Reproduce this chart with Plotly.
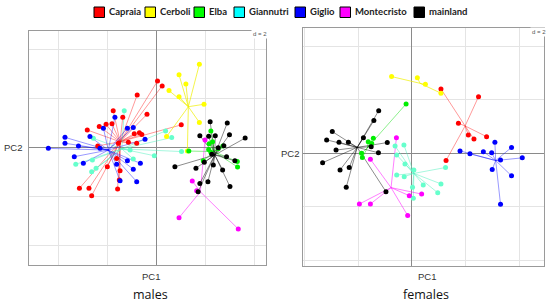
import plotly.graph_objects as go

W, H = 550, 305

groups = ['Capraia', 'Cerboli', 'Elba', 'Giannutri', 'Giglio', 'Montecristo', 'mainland']
point_colors = ['#ff0000', '#ffff00', '#00ee00', '#66ffcc', '#0000ff', '#ff00ff', '#000000']
line_colors = ['rgba(255,0,0,0.4)', 'rgba(240,240,0,0.7)', 'rgba(0,220,0,0.45)',
               'rgba(80,240,190,0.5)', 'rgba(0,0,255,0.4)', 'rgba(255,0,255,0.5)',
               'rgba(0,0,0,0.45)']
legend_colors = ['#ff0000', '#ffff00', '#00ff00', '#00ffff', '#0000ff', '#ff00ff', '#000000']

# ---- males (PC1, PC2) ----
males_capraia = [(0.05, 2.72), (0.24, 2.52), (-0.78, 2.15), (-0.38, 1.36), (1.02, 0.93),
                 (-1.76, 1.51), (-1.37, 1.24), (-1.81, 0.97), (-2.05, 0.95), (-2.33, 0.86),
                 (-2.82, 0.72), (-0.90, 0.57), (-0.69, 0.61), (-0.59, 0.54), (-0.80, 0.18),
                 (-1.14, 0.22), (-1.55, 0.18), (-2.39, 0.07), (-2.00, -0.78), (-1.48, -0.94),
                 (-1.51, -1.32), (-1.58, -1.69), (-3.14, -1.66), (-2.75, -1.66), (-2.64, -1.96),
                 (-1.62, -0.44)]
males_cerboli = [(1.76, 3.40), (0.93, 2.97), (1.21, 2.60), (0.52, 2.33), (0.93, 2.08),
                 (1.95, 1.77), (1.76, 1.03), (1.27, -0.14), (0.42, 0.45)]
males_elba = [(1.33, -0.14), (2.23, 0.68), (2.30, 0.24), (2.16, 0.16), (2.72, 0.07),
              (2.14, -0.08), (2.23, -0.19), (1.92, -0.54), (3.31, -0.57), (3.32, -0.79),
              (2.53, -0.05)]
males_giannutri = [(-1.31, 1.51), (0.38, 0.68), (0.63, 0.41), (1.03, -0.16), (-0.08, -0.33),
                   (-0.94, -0.46), (-2.57, 0.38), (-2.64, -0.98), (-2.46, -0.84), (-3.29, -0.68),
                   (-2.61, -0.50), (-1.07, -0.10)]
males_giglio = [(-4.41, -0.03), (-3.73, 0.42), (-3.73, 0.18), (-3.18, 0.07), (-3.35, -0.37),
                (-2.98, -0.64), (-2.71, 0.45), (-2.16, 0.79), (-1.69, 1.24), (-1.18, 0.79),
                (-0.94, 0.82), (-0.46, 0.34), (-0.65, -0.64), (-0.94, -0.88), (-0.80, -1.39),
                (-1.48, -1.35), (-1.62, -0.68), (-1.18, -0.54), (-2.30, -0.03)]
males_montecristo = [(1.99, 0.31), (1.47, -1.36), (1.65, -1.76), (0.93, -2.86), (3.35, -3.32)]
males_mainland = [(2.20, 1.06), (2.90, 1.01), (1.78, 0.49), (2.14, 0.46), (2.41, 0.49),
                  (2.99, 0.53), (3.63, 0.39), (2.53, 0.00), (2.76, 0.08), (2.87, -0.37),
                  (3.21, -0.54), (0.76, -0.78), (1.62, -0.84), (1.96, -0.60), (2.33, -0.71),
                  (2.71, -0.91), (1.78, -1.46), (2.11, -1.39), (3.01, -1.59), (1.71, -1.80),
                  (2.27, -0.27)]
males_centroids = [(-1.48, 0.24), (1.31, 1.67), (2.35, -0.16), (-1.41, -0.05),
                   (-1.96, -0.10), (1.80, -1.80), (2.39, -0.30)]

# ---- females (PC1, PC2) ----
females_capraia = [(1.08, 2.40), (2.48, 2.11), (1.73, 1.12), (2.10, 0.68), (2.31, 0.53),
                   (2.78, 0.62), (1.27, -0.27)]
females_cerboli = [(-0.76, 2.86), (0.20, 2.82), (0.50, 2.57), (1.08, 2.24)]
females_elba = [(-0.22, 1.84), (-1.44, 0.56), (-1.63, 0.43), (-1.50, 0.37), (-1.88, 0.00),
                (-1.85, -0.16)]
females_giannutri = [(-0.63, 0.27), (-0.30, 0.31), (-0.57, -0.06), (-0.26, -0.40), (0.07, -0.62),
                     (-0.57, -0.81), (-0.29, -0.87), (1.25, -0.53), (1.08, -1.14), (0.42, -1.18),
                     (0.96, -1.47), (0.02, -1.27), (0.05, -1.68)]
females_giglio = [(1.79, 0.09), (2.16, -0.02), (2.66, 0.06), (2.97, 0.02), (3.09, 0.41),
                  (3.71, 0.22), (4.11, -0.17), (3.30, -0.25), (2.99, -0.60), (3.71, -0.84),
                  (3.30, -1.90)]
females_montecristo = [(-0.58, 0.58), (-1.55, -0.22), (-1.96, -1.89), (-1.55, -1.89),
                       (-0.10, -1.58), (0.36, -1.52), (-0.16, -2.32)]
females_mainland = [(-1.24, 1.59), (-1.42, 1.22), (-2.97, 0.81), (-3.18, 0.50), (-2.72, 0.41),
                    (-2.37, 0.41), (-0.92, 0.40), (-2.83, 0.12), (-1.25, 0.02), (-3.33, -0.35),
                    (-2.34, -0.53), (-2.68, -0.62), (-2.45, -1.27), (-0.97, -1.43),
                    (-1.81, 0.58), (-1.52, 0.24)]
females_centroids = [(1.98, 1.02), (0.30, 2.61), (-1.66, 0.21), (0.07, -0.75),
                     (3.12, -0.27), (-0.78, -1.28), (-2.04, 0.22)]

males = [males_capraia, males_cerboli, males_elba, males_giannutri,
         males_giglio, males_montecristo, males_mainland]
females = [females_capraia, females_cerboli, females_elba, females_giannutri,
           females_giglio, females_montecristo, females_mainland]

fig = go.Figure()


def add_stars(sets, centroids, xa, ya):
    # lines first so points sit on top
    for i, pts in enumerate(sets):
        cx, cy = centroids[i]
        lx, ly = [], []
        for x, y in pts:
            lx += [cx, x, None]
            ly += [cy, y, None]
        fig.add_trace(go.Scatter(x=lx, y=ly, mode='lines', xaxis=xa, yaxis=ya,
                                 line=dict(color=line_colors[i], width=1),
                                 showlegend=False, hoverinfo='skip'))
    for i, pts in enumerate(sets):
        fig.add_trace(go.Scatter(x=[p[0] for p in pts], y=[p[1] for p in pts],
                                 mode='markers', xaxis=xa, yaxis=ya, name=groups[i],
                                 marker=dict(color=point_colors[i], size=5),
                                 showlegend=False))


add_stars(males, males_centroids, 'x', 'y')
add_stars(females, females_centroids, 'x2', 'y2')

axis_style = dict(showgrid=True, gridcolor='#e4e4e4', gridwidth=1, dtick=2, tick0=0,
                  showticklabels=False, ticks='', zeroline=True, zerolinecolor='#8a8a8a',
                  zerolinewidth=1, showline=True, linecolor='#9a9a9a', linewidth=1,
                  mirror=True, fixedrange=True)


def px(x):
    return x / W


def py(y):
    return 1 - y / H


fig.update_layout(
    width=W, height=H, margin=dict(l=0, r=0, t=0, b=0),
    paper_bgcolor='white', plot_bgcolor='white',
    xaxis=dict(axis_style, domain=[px(29), px(265.7)], range=[-5.20, 4.47]),
    yaxis=dict(axis_style, domain=[py(265), py(31)], range=[-4.79, 4.76], anchor='x'),
    xaxis2=dict(axis_style, domain=[px(303.3), px(544)], range=[-4.05, 4.92], anchor='y2'),
    yaxis2=dict(axis_style, domain=[py(265.7), py(28.3)], range=[-4.19, 4.66], anchor='x2'),
)

annotations = []


def label(xc, yc, txt, font, **kw):
    d = dict(x=px(xc), y=py(yc), xref='paper', yref='paper', text=txt, showarrow=False,
             xanchor='center', yanchor='middle', font=font)
    d.update(kw)
    annotations.append(d)


label_font = dict(family='Liberation Sans, Arial', size=9.5, color='#333333')
label(12.5, 147.5, 'PC2', label_font)
label(290, 153, 'PC2', label_font)
label(150.5, 276, 'PC1', label_font)
label(427, 276, 'PC1', label_font)
title_font = dict(family='Open Sans', size=12.5, color='#111111')
label(150, 294, 'males', title_font)
label(426, 294, 'females', title_font)
d_font = dict(family='Liberation Sans', size=6, color='#555555')
label(259.5, 34, 'd = 2', d_font, bgcolor='white')
label(538.5, 32, 'd = 2', d_font, bgcolor='white')

# legend drawn across the top
legend_x = [94, 145, 194, 234, 295, 340, 414]
shapes = []
for i, g in enumerate(groups):
    x0 = legend_x[i]
    shapes.append(dict(type='rect', xref='paper', yref='paper',
                       x0=px(x0), x1=px(x0 + 10.5), y0=py(17.5), y1=py(7),
                       fillcolor=legend_colors[i], line=dict(color='#000000', width=1)))
    label(x0 + 12.5, 12, '<b>' + g + '</b>',
          dict(family='Lato', size=9.5, color='#222222'), xanchor='left')

fig.update_layout(annotations=annotations, shapes=shapes)

# page body has an 8px default margin; drop it so the figure sits at the window corner
fig.write_html("out.html", config={'displayModeBar': False},
               post_script="document.body.style.margin='0';")
